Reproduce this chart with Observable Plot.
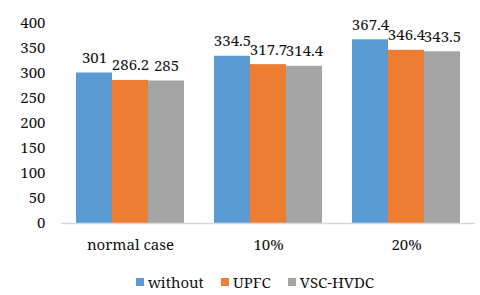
<!DOCTYPE html>
<html>
<head>
<meta charset="utf-8">
<script src="https://cdn.jsdelivr.net/npm/d3@7"></script>
<script src="https://cdn.jsdelivr.net/npm/@observablehq/plot@0.6"></script>
<style>
  body { margin: 0; background: #fff; }
  #wrap { position: relative; width: 480px; height: 295px; overflow: hidden; }
  #legend { position: absolute; left: 0; top: 273px; width: 510px; height: 17px; display: flex; justify-content: center; align-items: center; }
  .item { display: inline-flex; align-items: center; margin-right: 17px; font-family: 'Noto Serif'; font-size: 15px; line-height: 16px; color: #111; }
  .item:last-child { margin-right: 0; }
  .sw { display: inline-block; width: 8px; height: 8px; margin-right: 4px; }
</style>
</head>
<body>
<div id="wrap"><div id="chart"></div><div id="legend"></div></div>
<script>
const categories = ["normal case", "10%", "20%"];
const seriesNames = ["without", "UPFC", "VSC-HVDC"];
const withoutValues = [301, 334.5, 367.4];
const upfcValues = [286.2, 317.7, 346.4];
const vscValues = [285, 314.4, 343.5];
const colors = ["#5B9BD5", "#ED7D31", "#A5A5A5"];
const yTicks = [0, 50, 100, 150, 200, 250, 300, 350, 400];

const seriesValues = [withoutValues, upfcValues, vscValues];
const data = [];
categories.forEach((c, i) => {
  seriesNames.forEach((s, j) => {
    data.push({group: c, series: s, value: seriesValues[j][i]});
  });
});

const FONT = "Noto Serif";
const FS = 15;

const chart = Plot.plot({
  width: 480,
  height: 265,
  marginLeft: 60,
  marginRight: 5,
  marginTop: 23,
  marginBottom: 42,
  style: {fontFamily: FONT, fontSize: FS + "px", color: "#111", background: "#fff"},
  fx: {domain: categories, padding: 0},
  x: {domain: seriesNames, paddingInner: 0, paddingOuter: 0.37, axis: null},
  y: {domain: [0, 400], ticks: yTicks},
  color: {domain: seriesNames, range: colors},
  marks: [
    Plot.axisY({ticks: yTicks, tickSize: 0, tickPadding: 16, label: null, fontSize: FS, fontFamily: FONT}),
    Plot.axisFx({anchor: "bottom", tickSize: 0, tickPadding: 16, label: null, fontSize: FS, fontFamily: FONT}),
    Plot.barY(data, {fx: "group", x: "series", y: "value", fill: "series"}),
    Plot.ruleY([0], {stroke: "#D9D9D9", strokeWidth: 1.5}),
    Plot.text(data, {fx: "group", x: "series", y: "value", text: d => String(d.value), lineAnchor: "bottom", dy: -10, fontSize: FS, fontFamily: FONT, fill: "#111"})
  ]
});
document.getElementById("chart").appendChild(chart);

const lg = document.getElementById("legend");
seriesNames.forEach((s, i) => {
  const item = document.createElement("span");
  item.className = "item";
  const sw = document.createElement("span");
  sw.className = "sw";
  sw.style.background = colors[i];
  item.appendChild(sw);
  item.appendChild(document.createTextNode(s));
  lg.appendChild(item);
});
</script>
</body>
</html>
